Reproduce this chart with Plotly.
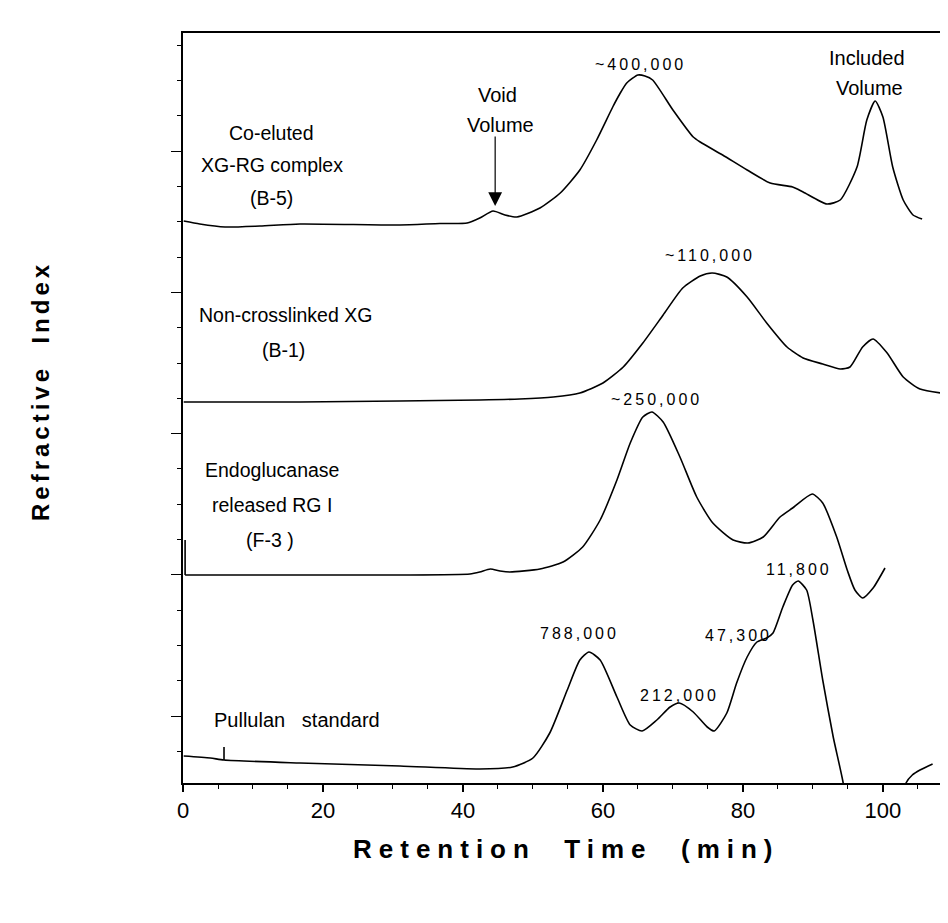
import plotly.graph_objects as go

# ---- data (x = retention time in min, y = detector signal, arbitrary offset units) ----
b5_time = [0.1, 2.4, 6.0, 11.0, 16.7, 31.0, 36.7, 40.6, 42.4, 44.3, 46.0, 47.7, 51.0, 53.9,
           56.7, 59.1, 61.4, 62.4, 63.4, 65.0, 66.0, 67.1, 70.0, 72.9, 73.9, 77.1, 80.6, 83.9, 87.1,
           88.6, 92.0, 93.9, 96.3, 97.7, 98.9, 100.0, 101.4, 102.9, 104.3, 105.6]
b5_signal = [562, 559, 556, 557, 559, 558, 559.5, 560, 565, 572, 568, 566, 575, 590,
             613, 643, 676, 689, 700, 708, 707, 703, 673, 646, 641, 628, 613, 600, 596,
             591, 579, 583, 616, 663, 682, 666, 616, 583, 568, 564]

b1_time = [0.1, 16.7, 31.0, 42.4, 48.1, 52.9, 56.7, 60.0, 62.9, 65.7, 68.6, 71.4, 73.9,
           75.6, 77.7, 80.6, 83.4, 86.3, 88.6, 91.4, 93.9, 95.3, 97.1, 98.6, 100.6,
           102.9, 105.3, 109.3]
b1_signal = [381, 381, 382, 383, 384, 386, 390, 400, 416, 440, 468, 495, 507,
             510, 506, 486, 460, 436, 425, 419, 414, 416, 436, 444, 430,
             406, 394, 389]

f3_time = [0.3, 16.7, 31.0, 41.0, 42.4, 43.9, 45.3, 46.7, 51.0, 54.3, 57.1, 59.6,
           62.0, 63.9, 65.7, 67.0, 68.6, 71.0, 73.4, 75.7, 78.6, 80.7, 82.9, 85.3,
           87.1, 89.9, 91.4, 93.4, 94.9, 96.0, 97.1, 98.6, 100.3]
f3_signal = [208, 208, 208, 209, 211, 214, 212, 211, 214, 221, 236, 263,
             303, 340, 366, 371, 361, 326, 286, 260, 243, 240, 246, 266,
             275, 289, 280, 246, 213, 193, 185, 195, 215]
f3_spike_time = [0.3, 0.3]
f3_spike_signal = [208, 243]

pul_time = [0.1, 3.9, 5.86, 16.7, 31.0, 42.4, 47.1, 50.0, 52.4, 54.9, 56.7,
            58.0, 59.6, 62.0, 63.9, 65.6, 67.7, 69.6, 70.9, 72.9, 74.9, 75.9, 77.7,
            79.1, 80.6, 82.0, 83.4, 84.3, 85.7, 87.1, 87.9, 89.1, 90.0, 91.4, 92.9,
            94.3, 95.3, 98.1, 101.0, 103.3, 104.2, 105.3, 107.1]
pul_signal = [27, 25, 23, 20, 17, 14, 16, 25, 50, 93, 123,
              131, 123, 86, 58, 52, 63, 76, 80, 71, 56, 52, 70,
              100, 126, 141, 145, 150, 176, 198, 202, 193, 163, 103, 46,
              1, -47, -97, -77, 0, 8, 13, 19]
pul_spike_time = [5.86, 5.86]
pul_spike_signal = [23, 36]

x_tick_labels = ["0", "20", "40", "60", "80", "100"]
x_tick_vals = [0, 20, 40, 60, 80, 100]

# label text and anchor positions (time, signal)
sample_labels = [
    ("Co-eluted", 12.7, 650), ("XG-RG complex", 12.7, 618), ("(B-5)", 12.7, 585),
    ("Non-crosslinked XG", 14.7, 468), ("(B-1)", 14.3, 433),
    ("Endoglucanase", 12.7, 313), ("released RG I", 12.7, 278), ("(F-3 )", 12.4, 243),
]
mw_labels = [
    ("~400,000", 65.4, 719), ("~110,000", 75.3, 528), ("~250,000", 67.7, 384),
    ("788,000", 56.7, 150), ("212,000", 71.0, 88), ("47,300", 79.3, 148), ("11,800", 88.0, 214),
]

fig = go.Figure()
for t, s, shp in [(b5_time, b5_signal, "spline"), (b1_time, b1_signal, "spline"),
                  (f3_time, f3_signal, "spline"), (pul_time, pul_signal, "spline"),
                  (f3_spike_time, f3_spike_signal, "linear"),
                  (pul_spike_time, pul_spike_signal, "linear")]:
    fig.add_trace(go.Scatter(x=t, y=s, mode="lines",
                             line=dict(color="black", width=1.6, shape=shp, smoothing=0.6),
                             showlegend=False, hoverinfo="skip"))

font_txt = "Liberation Sans, Arial, sans-serif"
ann = []
for txt, x, y in sample_labels:
    ann.append(dict(x=x, y=y, xref="x", yref="y", text=txt, showarrow=False,
                    font=dict(family=font_txt, size=19.5, color="black")))
ann.append(dict(x=4.2, y=63, xref="x", yref="y", text="Pullulan&nbsp;&nbsp; standard", showarrow=False,
                xanchor="left", font=dict(family=font_txt, size=20, color="black")))
for txt, x, y in mw_labels:
    ann.append(dict(x=x, y=y, xref="x", yref="y",
                    text='<span style="letter-spacing:3px">' + txt + '</span>', showarrow=False,
                    font=dict(family=font_txt, size=16, color="black")))
for txt, x, y in [("Void", 45.0, 688), ("Volume", 45.3, 658),
                  ("Included", 97.7, 725), ("Volume", 98.1, 695)]:
    ann.append(dict(x=x, y=y, xref="x", yref="y", text=txt, showarrow=False,
                    font=dict(family=font_txt, size=20, color="black")))
# arrow to void peak
ann.append(dict(x=44.6, y=577, ax=44.6, ay=648, xref="x", yref="y", axref="x", ayref="y",
                text="", showarrow=True, arrowhead=2, arrowsize=2.3, arrowwidth=1.2,
                arrowcolor="black", standoff=0))
# axis titles
ann.append(dict(x=(566 - 183) / 765, y=-(849 - 783) / 750, xref="paper", yref="paper",
                xanchor="center", yanchor="middle",
                text='<b><span style="letter-spacing:7px">Retention&nbsp; Time&nbsp; (min)</span></b>',
                showarrow=False, font=dict(family=font_txt, size=26, color="black")))
ann.append(dict(x=-(183 - 40) / 765, y=(783 - 391) / 750, xref="paper", yref="paper",
                xanchor="center", yanchor="middle",
                text='<b><span style="letter-spacing:4px">Refractive&nbsp; Index</span></b>',
                textangle=-90, showarrow=False, font=dict(family=font_txt, size=24, color="black")))

fig.update_layout(
    width=940, height=907,
    margin=dict(l=175, r=0, t=25, b=132),
    paper_bgcolor="white", plot_bgcolor="white",
    annotations=ann,
    xaxis=dict(range=[0, 109.3], showgrid=False, zeroline=False,
               showline=True, linecolor="black", linewidth=2, mirror=True,
               ticks="outside", ticklen=7, tickwidth=1.5, tickcolor="black",
               tickvals=x_tick_vals, ticktext=x_tick_labels,
               tickfont=dict(family=font_txt, size=22, color="black"),
               minor=dict(dtick=5, tick0=0, ticks="outside", ticklen=4, tickwidth=1,
                          tickcolor="black", showgrid=False)),
    yaxis=dict(range=[0, 750], showgrid=False, zeroline=False,
               showline=True, linecolor="black", linewidth=2,
               ticks="outside", ticklen=10, tickwidth=1.2, tickcolor="black",
               tick0=67, dtick=141.2, showticklabels=False,
               minor=dict(tick0=67, dtick=35.3, ticks="outside", ticklen=4, tickwidth=1,
                          tickcolor="black", showgrid=False)),
)

fig.write_html("out.html")
